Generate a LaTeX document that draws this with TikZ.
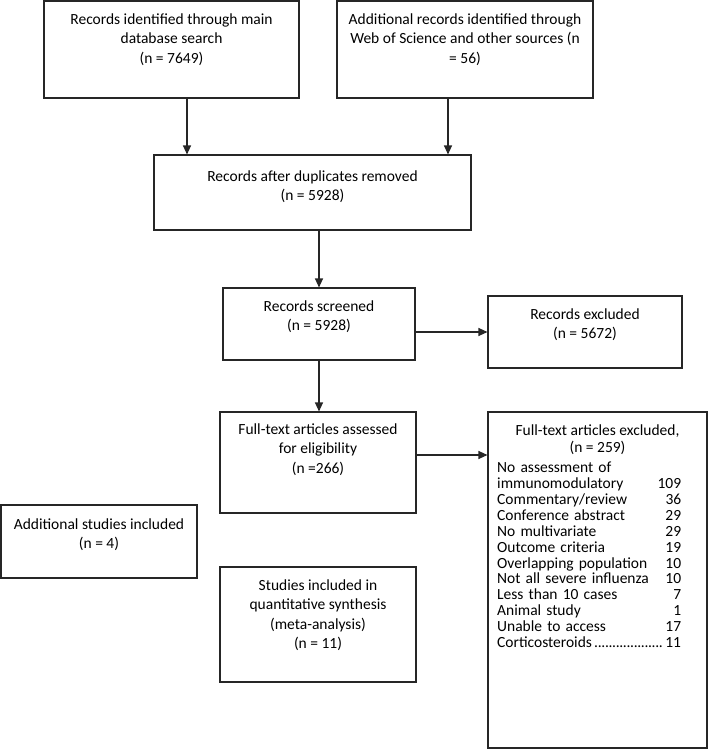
\documentclass[tikz,border=0pt]{standalone}
\usepackage{fontspec}
\setmainfont{Carlito}
\usetikzlibrary{arrows.meta}
\newcommand{\tightdots}{\leaders\hbox to 3.6pt{\hss.\hss}\hfill}
\begin{document}
\begin{tikzpicture}[x=1pt,y=-1pt,
  box/.style={draw=black!85,line width=1.1pt,rectangle,inner sep=0pt},
  txt/.style={anchor=north,inner sep=0pt,align=center,font=\fontsize{15.5}{19.5}\selectfont},
  listtxt/.style={anchor=north west,inner sep=0pt,align=left,text width=184pt,font=\fontsize{15.5}{15.9}\selectfont},
  hdrtxt/.style={anchor=north,inner sep=0pt,align=center,font=\fontsize{15.5}{16}\selectfont},
  arr/.style={draw=black!85,line width=1.1pt,-{Triangle[length=9pt,width=8pt]}}]
\useasboundingbox (0,0) rectangle (709,749);
% boxes
\node[box,minimum width=255pt,minimum height=97pt] (b1) at (171.5,49.5) {};
\node[box,minimum width=256pt,minimum height=97pt] (b2) at (465,49.5) {};
\node[box,minimum width=317pt,minimum height=75pt] (b3) at (312.5,192.5) {};
\node[box,minimum width=192pt,minimum height=72pt] (b4) at (319,324) {};
\node[box,minimum width=194pt,minimum height=72pt] (b5) at (585,332) {};
\node[box,minimum width=196pt,minimum height=101pt] (b6) at (318,462.5) {};
\node[box,minimum width=219pt,minimum height=336pt] (b7) at (597.5,580) {};
\node[box,minimum width=196pt,minimum height=73pt] (b8) at (99,541.5) {};
\node[box,minimum width=196pt,minimum height=115pt] (b9) at (318,624.5) {};
% texts
\node[txt] (t1) at ([yshift=-10pt]b1.north) {\strut Records identified through main\\database search\\(n = 7649)};
\node[txt] (t2) at ([yshift=-10pt]b2.north) {\strut Additional records identified through\\Web of Science and other sources (n\\= 56)};
\node[txt] (t3) at ([yshift=-13pt]b3.north) {\strut Records after duplicates removed\\(n = 5928)};
\node[txt] (t4) at ([yshift=-10pt]b4.north) {\strut Records screened\\(n = 5928)};
\node[txt] (t5) at ([yshift=-10pt]b5.north) {\strut Records excluded\\(n = 5672)};
\node[txt] (t6) at ([yshift=-9pt]b6.north) {\strut Full-text articles assessed\\for eligibility\\(n =266)};
\node[txt] (t8) at ([yshift=-11pt]b8.north) {\strut Additional studies included\\(n = 4)};
\node[txt] (t9) at ([yshift=-10pt]b9.north) {\strut Studies included in\\quantitative synthesis\\(meta-analysis)\\(n = 11)};
\node[hdrtxt] (t7) at ([yshift=-12.3pt]b7.north) {\strut Full-text articles excluded,\\(n = 259)};
\node[listtxt] (t7l) at (497,461.3) {\strut No assessment of\\
immunomodulatory\hfill 109\\
Commentary/review\hfill 36\\
Conference abstract\hfill 29\\
No multivariate\hfill 29\\
Outcome criteria\hfill 19\\
Overlapping population\hfill 10\\
Not all severe influenza\hfill 10\\
Less than 10 cases\hfill 7\\
Animal study\hfill 1\\
Unable to access\hfill 17\\
Corticosteroids\tightdots 11};
% arrows
\draw[arr] ([xshift=15.5pt]b1.south) -- ([xshift=15.5pt]b1.south |- b3.north);
\draw[arr] ([xshift=-17pt]b2.south) -- ([xshift=-17pt]b2.south |- b3.north);
\draw[arr] (b4.north |- b3.south) -- (b4.north);
\draw[arr] (b5.west -| b4.east) -- (b5.west);
\draw[arr] (b4.south) -- (b4.south |- b6.north);
\draw[arr] ([yshift=7.5pt]b6.east) -- ([yshift=7.5pt]b6.east -| b7.west);
\end{tikzpicture}
\end{document}
